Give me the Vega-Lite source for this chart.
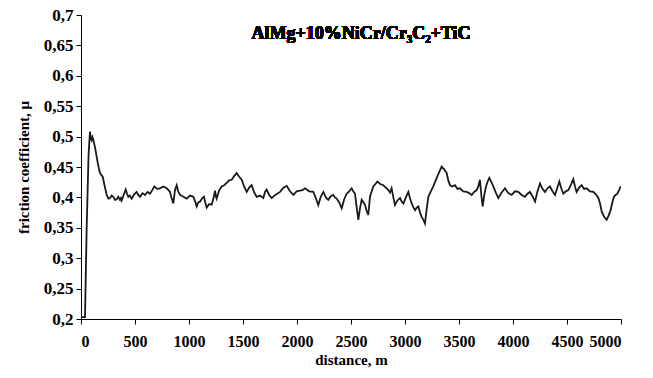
{
  "$schema": "https://vega.github.io/schema/vega-lite/v6.json",
  "autosize": "none",
  "width": 540,
  "height": 304,
  "padding": {"left": 81, "top": 15, "right": 32, "bottom": 59},
  "background": "white",
  "config": {
    "view": {"stroke": null},
    "font": "Liberation Serif",
    "axis": {
      "grid": false,
      "domainColor": "#000000",
      "tickColor": "#000000",
      "tickSize": 5,
      "labelFont": "Liberation Serif",
      "labelFontWeight": "bold",
      "labelFontSize": 17,
      "labelColor": "#000000",
      "titleFont": "Liberation Serif",
      "titleFontWeight": "bold",
      "titleFontSize": 15,
      "titleColor": "#000000"
    }
  },
  "data": {
    "values": [
      {"d": 0, "mu": 0.203}, {"d": 37, "mu": 0.203}, {"d": 52, "mu": 0.346}, {"d": 70, "mu": 0.47},
      {"d": 83, "mu": 0.508}, {"d": 91, "mu": 0.497}, {"d": 99, "mu": 0.494}, {"d": 106, "mu": 0.499},
      {"d": 114, "mu": 0.495}, {"d": 130, "mu": 0.482}, {"d": 145, "mu": 0.467}, {"d": 160, "mu": 0.452},
      {"d": 176, "mu": 0.44}, {"d": 188, "mu": 0.437}, {"d": 201, "mu": 0.434}, {"d": 220, "mu": 0.418},
      {"d": 238, "mu": 0.404}, {"d": 254, "mu": 0.398}, {"d": 269, "mu": 0.399}, {"d": 284, "mu": 0.403},
      {"d": 299, "mu": 0.401}, {"d": 315, "mu": 0.396}, {"d": 330, "mu": 0.397}, {"d": 345, "mu": 0.401},
      {"d": 361, "mu": 0.396}, {"d": 370, "mu": 0.399}, {"d": 377, "mu": 0.395}, {"d": 395, "mu": 0.404},
      {"d": 414, "mu": 0.413}, {"d": 426, "mu": 0.406}, {"d": 438, "mu": 0.401}, {"d": 452, "mu": 0.403},
      {"d": 469, "mu": 0.398}, {"d": 492, "mu": 0.405}, {"d": 515, "mu": 0.409}, {"d": 530, "mu": 0.404},
      {"d": 546, "mu": 0.401}, {"d": 570, "mu": 0.407}, {"d": 593, "mu": 0.404}, {"d": 616, "mu": 0.409},
      {"d": 639, "mu": 0.406}, {"d": 660, "mu": 0.412}, {"d": 679, "mu": 0.418}, {"d": 705, "mu": 0.414},
      {"d": 731, "mu": 0.415}, {"d": 762, "mu": 0.418}, {"d": 793, "mu": 0.415}, {"d": 810, "mu": 0.412},
      {"d": 824, "mu": 0.409}, {"d": 840, "mu": 0.398}, {"d": 855, "mu": 0.39}, {"d": 870, "mu": 0.412},
      {"d": 886, "mu": 0.42}, {"d": 900, "mu": 0.41}, {"d": 917, "mu": 0.404}, {"d": 948, "mu": 0.401},
      {"d": 978, "mu": 0.398}, {"d": 1010, "mu": 0.403}, {"d": 1040, "mu": 0.401}, {"d": 1056, "mu": 0.394},
      {"d": 1071, "mu": 0.385}, {"d": 1087, "mu": 0.392}, {"d": 1102, "mu": 0.393}, {"d": 1120, "mu": 0.398},
      {"d": 1139, "mu": 0.401}, {"d": 1150, "mu": 0.392}, {"d": 1164, "mu": 0.383}, {"d": 1187, "mu": 0.389},
      {"d": 1210, "mu": 0.388}, {"d": 1226, "mu": 0.398}, {"d": 1241, "mu": 0.411}, {"d": 1249, "mu": 0.402},
      {"d": 1256, "mu": 0.398}, {"d": 1280, "mu": 0.412}, {"d": 1303, "mu": 0.418}, {"d": 1326, "mu": 0.42},
      {"d": 1349, "mu": 0.424}, {"d": 1372, "mu": 0.428}, {"d": 1395, "mu": 0.429}, {"d": 1418, "mu": 0.435},
      {"d": 1441, "mu": 0.44}, {"d": 1465, "mu": 0.434}, {"d": 1488, "mu": 0.429}, {"d": 1510, "mu": 0.418},
      {"d": 1534, "mu": 0.409}, {"d": 1557, "mu": 0.416}, {"d": 1580, "mu": 0.42}, {"d": 1604, "mu": 0.408},
      {"d": 1627, "mu": 0.401}, {"d": 1657, "mu": 0.403}, {"d": 1688, "mu": 0.399}, {"d": 1704, "mu": 0.409},
      {"d": 1719, "mu": 0.413}, {"d": 1742, "mu": 0.404}, {"d": 1766, "mu": 0.399}, {"d": 1805, "mu": 0.405},
      {"d": 1843, "mu": 0.409}, {"d": 1874, "mu": 0.416}, {"d": 1905, "mu": 0.419}, {"d": 1935, "mu": 0.41},
      {"d": 1966, "mu": 0.404}, {"d": 1997, "mu": 0.41}, {"d": 2028, "mu": 0.411}, {"d": 2051, "mu": 0.412},
      {"d": 2074, "mu": 0.415}, {"d": 2112, "mu": 0.41}, {"d": 2151, "mu": 0.409}, {"d": 2174, "mu": 0.399},
      {"d": 2197, "mu": 0.3875}, {"d": 2220, "mu": 0.401}, {"d": 2244, "mu": 0.409}, {"d": 2267, "mu": 0.4},
      {"d": 2290, "mu": 0.396}, {"d": 2313, "mu": 0.402}, {"d": 2336, "mu": 0.404}, {"d": 2352, "mu": 0.4},
      {"d": 2367, "mu": 0.398}, {"d": 2390, "mu": 0.392}, {"d": 2414, "mu": 0.382}, {"d": 2437, "mu": 0.397},
      {"d": 2460, "mu": 0.406}, {"d": 2483, "mu": 0.41}, {"d": 2506, "mu": 0.415}, {"d": 2521, "mu": 0.41},
      {"d": 2537, "mu": 0.406}, {"d": 2552, "mu": 0.385}, {"d": 2568, "mu": 0.363}, {"d": 2583, "mu": 0.382},
      {"d": 2599, "mu": 0.396}, {"d": 2615, "mu": 0.392}, {"d": 2630, "mu": 0.3875}, {"d": 2645, "mu": 0.378},
      {"d": 2660, "mu": 0.371}, {"d": 2676, "mu": 0.401}, {"d": 2692, "mu": 0.41}, {"d": 2707, "mu": 0.418},
      {"d": 2726, "mu": 0.422}, {"d": 2744, "mu": 0.426}, {"d": 2771, "mu": 0.422}, {"d": 2799, "mu": 0.42},
      {"d": 2822, "mu": 0.416}, {"d": 2846, "mu": 0.412}, {"d": 2861, "mu": 0.408}, {"d": 2876, "mu": 0.415},
      {"d": 2892, "mu": 0.4}, {"d": 2907, "mu": 0.3875}, {"d": 2930, "mu": 0.395}, {"d": 2954, "mu": 0.399},
      {"d": 2970, "mu": 0.393}, {"d": 2985, "mu": 0.39}, {"d": 3008, "mu": 0.4}, {"d": 3031, "mu": 0.409},
      {"d": 3046, "mu": 0.399}, {"d": 3062, "mu": 0.39}, {"d": 3077, "mu": 0.384}, {"d": 3093, "mu": 0.379},
      {"d": 3108, "mu": 0.383}, {"d": 3124, "mu": 0.385}, {"d": 3139, "mu": 0.375}, {"d": 3154, "mu": 0.368},
      {"d": 3170, "mu": 0.363}, {"d": 3185, "mu": 0.357}, {"d": 3200, "mu": 0.38}, {"d": 3216, "mu": 0.401},
      {"d": 3239, "mu": 0.41}, {"d": 3262, "mu": 0.418}, {"d": 3300, "mu": 0.435}, {"d": 3339, "mu": 0.4505},
      {"d": 3362, "mu": 0.446}, {"d": 3386, "mu": 0.44}, {"d": 3401, "mu": 0.428}, {"d": 3417, "mu": 0.42},
      {"d": 3440, "mu": 0.418}, {"d": 3463, "mu": 0.42}, {"d": 3486, "mu": 0.414}, {"d": 3509, "mu": 0.415},
      {"d": 3540, "mu": 0.41}, {"d": 3571, "mu": 0.409}, {"d": 3594, "mu": 0.407}, {"d": 3617, "mu": 0.404},
      {"d": 3640, "mu": 0.409}, {"d": 3664, "mu": 0.412}, {"d": 3679, "mu": 0.418}, {"d": 3694, "mu": 0.429},
      {"d": 3706, "mu": 0.405}, {"d": 3719, "mu": 0.385}, {"d": 3735, "mu": 0.405}, {"d": 3750, "mu": 0.418},
      {"d": 3765, "mu": 0.426}, {"d": 3781, "mu": 0.432}, {"d": 3800, "mu": 0.425}, {"d": 3818, "mu": 0.418},
      {"d": 3841, "mu": 0.408}, {"d": 3864, "mu": 0.399}, {"d": 3895, "mu": 0.408}, {"d": 3926, "mu": 0.415},
      {"d": 3957, "mu": 0.407}, {"d": 3988, "mu": 0.404}, {"d": 4018, "mu": 0.41}, {"d": 4049, "mu": 0.409},
      {"d": 4080, "mu": 0.404}, {"d": 4111, "mu": 0.401}, {"d": 4134, "mu": 0.406}, {"d": 4157, "mu": 0.409},
      {"d": 4180, "mu": 0.402}, {"d": 4204, "mu": 0.393}, {"d": 4227, "mu": 0.41}, {"d": 4250, "mu": 0.423},
      {"d": 4273, "mu": 0.414}, {"d": 4296, "mu": 0.409}, {"d": 4319, "mu": 0.415}, {"d": 4342, "mu": 0.418},
      {"d": 4366, "mu": 0.41}, {"d": 4389, "mu": 0.404}, {"d": 4409, "mu": 0.415}, {"d": 4429, "mu": 0.426},
      {"d": 4447, "mu": 0.415}, {"d": 4466, "mu": 0.406}, {"d": 4489, "mu": 0.41}, {"d": 4512, "mu": 0.412},
      {"d": 4535, "mu": 0.42}, {"d": 4558, "mu": 0.43}, {"d": 4574, "mu": 0.418}, {"d": 4589, "mu": 0.409},
      {"d": 4612, "mu": 0.416}, {"d": 4636, "mu": 0.42}, {"d": 4659, "mu": 0.414}, {"d": 4682, "mu": 0.415},
      {"d": 4713, "mu": 0.41}, {"d": 4744, "mu": 0.409}, {"d": 4767, "mu": 0.405}, {"d": 4790, "mu": 0.399},
      {"d": 4806, "mu": 0.39}, {"d": 4821, "mu": 0.377}, {"d": 4844, "mu": 0.368}, {"d": 4867, "mu": 0.363},
      {"d": 4885, "mu": 0.37}, {"d": 4904, "mu": 0.379}, {"d": 4920, "mu": 0.392}, {"d": 4935, "mu": 0.401},
      {"d": 4950, "mu": 0.404}, {"d": 4966, "mu": 0.406}, {"d": 4982, "mu": 0.412}, {"d": 4997, "mu": 0.418}
    ]
  },
  "layer": [
    {
      "mark": {"type": "line", "color": "#1a1a1a", "strokeWidth": 1.8, "clip": true},
      "encoding": {
        "x": {
          "field": "d", "type": "quantitative",
          "scale": {"domain": [0, 5000], "nice": false},
          "axis": {"title": "distance, m", "tickCount": 10, "format": "d", "labelOverlap": false, "labelFontSize": 16, "labelPadding": 9, "titlePadding": 3}
        },
        "y": {
          "field": "mu", "type": "quantitative",
          "scale": {"domain": [0.2, 0.7], "nice": false, "zero": false},
          "axis": {"title": "friction coefficient, μ", "tickCount": 10, "labelExpr": "replace(format(datum.value, '.2~f'), '.', ',')", "labelOverlap": false, "labelSeparation": 0, "labelPadding": 3, "titlePadding": 12}
        }
      }
    },
    {
      "mark": {"type": "text", "font": "Liberation Serif", "fontWeight": "bold", "fontSize": 18, "color": "#000000", "align": "center", "baseline": "middle"},
      "encoding": {
        "x": {"datum": 2593},
        "y": {"datum": 0.669},
        "text": {"value": "AlMg+10%NiCr/Cr₃C₂+TiC"}
      }
    }
  ]
}
